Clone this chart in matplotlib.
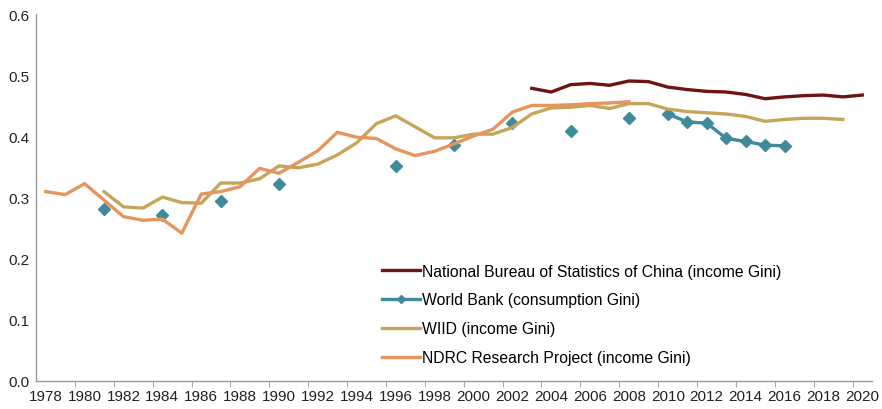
import numpy as np
import matplotlib
matplotlib.use("Agg")
import matplotlib.pyplot as plt
from matplotlib.ticker import MultipleLocator, FixedLocator

plt.rcParams['font.family'] = ['Liberation Sans', 'DejaVu Sans']

nan = np.nan

# National Bureau of Statistics of China (2003-2020)
nbs_years = np.arange(2003, 2021)
nbs = [0.479, 0.473, 0.485, 0.487, 0.484, 0.491, 0.490, 0.481, 0.477,
       0.474, 0.473, 0.469, 0.462, 0.465, 0.467, 0.468, 0.465, 0.468]

# World Bank (consumption Gini), 1981-2016, gaps where no survey
wb_years = np.arange(1981, 2017)
wb = [0.282, nan, nan, 0.272, nan, nan, 0.294, nan, nan, 0.322,
      nan, nan, nan, nan, nan, 0.352, nan, nan, 0.387, nan,
      nan, 0.422, nan, nan, 0.409, nan, nan, 0.430, nan, 0.437,
      0.424, 0.422, 0.397, 0.392, 0.386, 0.385]

# WIID (income Gini), 1981-2019
wiid_years = np.arange(1981, 2020)
wiid = [0.310, 0.285, 0.283, 0.301, 0.292, 0.291, 0.324, 0.324, 0.331, 0.352,
        0.349, 0.355, 0.370, 0.390, 0.421, 0.434, 0.416, 0.398, 0.398, 0.404,
        0.404, 0.415, 0.437, 0.447, 0.448, 0.451, 0.446, 0.454, 0.454, 0.445,
        0.441, 0.439, 0.437, 0.433, 0.425, 0.428, 0.430, 0.430, 0.428]

# NDRC Research Project (income Gini), 1978-2008
ndrc_years = np.arange(1978, 2009)
ndrc = [0.310, 0.305, 0.323, 0.296, 0.269, 0.263, 0.265, 0.242, 0.306, 0.310,
        0.318, 0.348, 0.340, 0.358, 0.377, 0.407, 0.399, 0.397, 0.380, 0.369,
        0.376, 0.388, 0.401, 0.412, 0.440, 0.451, 0.451, 0.452, 0.454, 0.455,
        0.457]

fig = plt.figure(figsize=(8.82, 4.10), dpi=100)
ax = fig.add_axes([36/882, 28/410, 836/882, 366.6/410])

ax.plot(nbs_years, nbs, color='#6E1414', lw=2.4,
        label='National Bureau of Statistics of China (income Gini)')
ax.plot(wb_years, wb, color='#3F8A9B', lw=2.4, marker='D', ms=6.5,
        label='World Bank (consumption Gini)')
ax.plot(wiid_years, wiid, color='#C5A55A', lw=2.4,
        label='WIID (income Gini)')
ax.plot(ndrc_years, ndrc, color='#E6955F', lw=2.4,
        label='NDRC Research Project (income Gini)')

ax.set_xlim(1977.5, 2020.5)
ax.set_ylim(0, 0.6)
ax.yaxis.set_major_locator(MultipleLocator(0.1))
ax.yaxis.set_major_formatter(plt.FuncFormatter(lambda v, p: f"{v:.1f}"))
ax.tick_params(axis='y', length=0, labelsize=11, colors='#222222', pad=5)

ax.xaxis.set_major_locator(FixedLocator(list(range(1978, 2021, 2))))
ax.xaxis.set_minor_locator(FixedLocator(list(np.arange(1979.5, 2020, 2))))
ax.tick_params(axis='x', which='major', length=0, labelsize=11,
               colors='#222222', pad=6)
ax.tick_params(axis='x', which='minor', length=4, color='#999999')

for s in ['top', 'right']:
    ax.spines[s].set_visible(False)
for s in ['left', 'bottom']:
    ax.spines[s].set_color('#999999')
    ax.spines[s].set_linewidth(1)

leg = ax.legend(loc='lower left', bbox_to_anchor=(0.3965, 0.005), frameon=False,
                fontsize=11.3, handlelength=2.45, handletextpad=0.1,
                labelspacing=0.88, markerscale=0.6)

fig.savefig('out.png', dpi=100)
